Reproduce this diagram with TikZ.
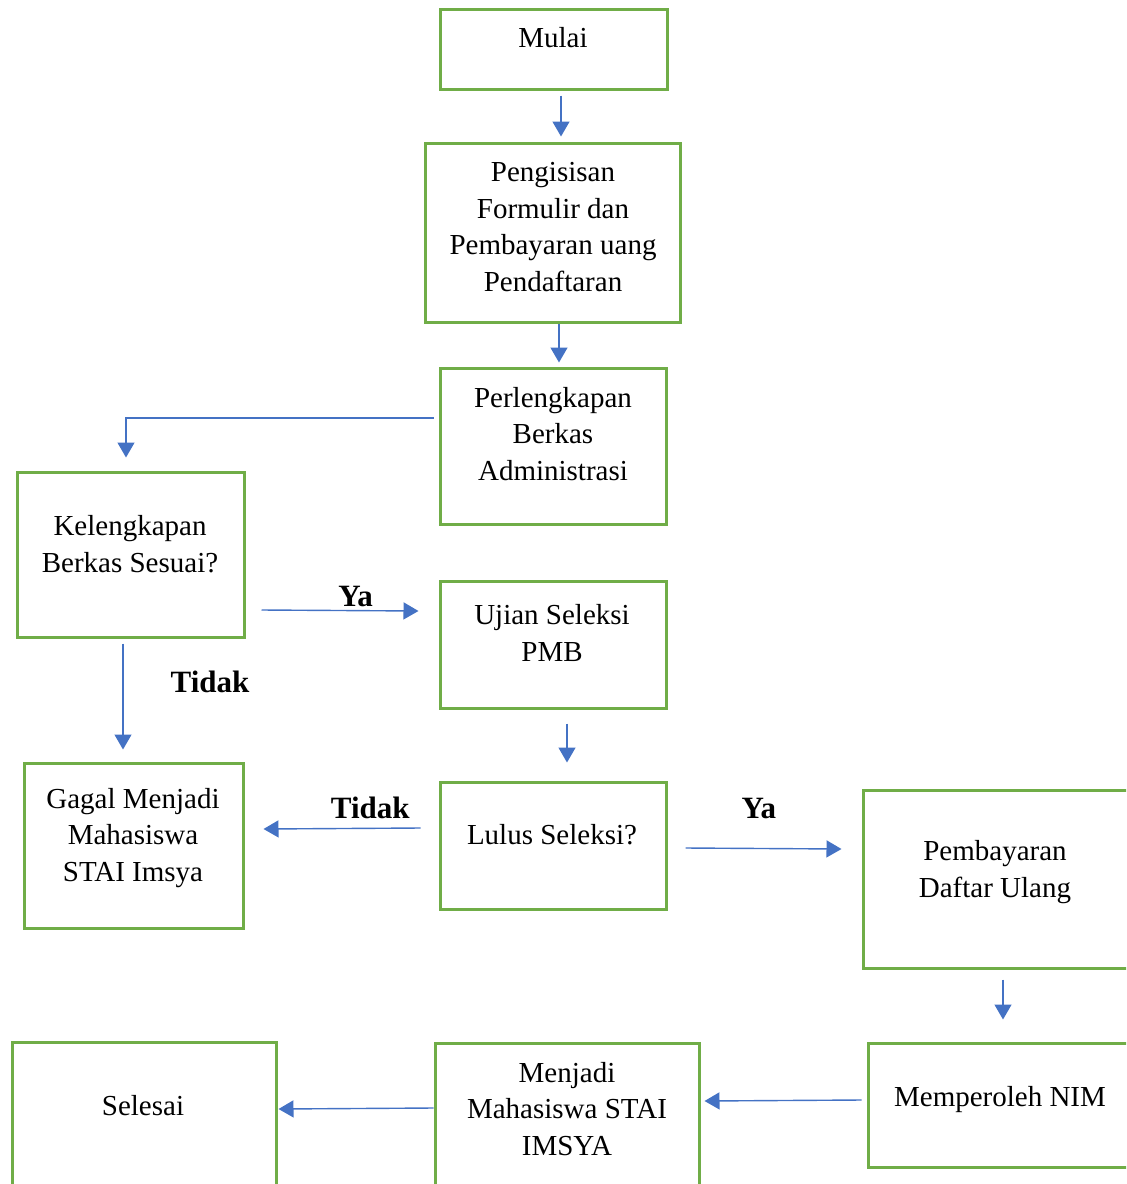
\documentclass[tikz,border=0pt]{standalone}
\usepackage{fontspec}
\setmainfont{Liberation Serif}
\usepackage{tikz}
\usetikzlibrary{arrows.meta,calc}
\definecolor{boxgreen}{HTML}{70AD47}
\definecolor{arrowblue}{HTML}{4472C4}

\begin{document}
\begin{tikzpicture}[x=0.5pt,y=-0.5pt,>={Triangle[width=8.5pt,length=7.5pt]},
  box/.style={draw=boxgreen,line width=1.5pt,inner sep=0pt},
  txt/.style={align=center,font=\fontsize{14.5}{18.35}\selectfont},
  lbl/.style={font=\fontsize{15.5}{18}\selectfont\bfseries},
  arr/.style={->,draw=arrowblue,line width=0.7pt}]
  \useasboundingbox (0,0) rectangle (1126,1184);
  \clip (0,0) rectangle (1126,1184);

  \node (mulai) [box,minimum width=113.5pt,minimum height=40pt] at (553.5,49) {};
  \node (peng) [box,minimum width=127.5pt,minimum height=89.5pt] at (552.5,232.5) {};
  \node (perl) [box,minimum width=113pt,minimum height=78pt] at (553,446) {};
  \node (kel) [box,minimum width=113.5pt,minimum height=82.5pt] at (130.5,554.5) {};
  \node (ujian) [box,minimum width=113pt,minimum height=63.5pt] at (553,644.5) {};
  \node (gagal) [box,minimum width=109.5pt,minimum height=82.5pt] at (133.5,845.5) {};
  \node (lulus) [box,minimum width=113pt,minimum height=63.5pt] at (553,845.5) {};
  \node (daftar) [box,minimum width=148.5pt,minimum height=89pt] at (1011.5,879) {};
  \node (nim) [box,minimum width=146pt,minimum height=62pt] at (1014,1105) {};
  \node (menjadi) [box,minimum width=132pt,minimum height=78.5pt] at (567,1121.5) {};
  \node (selesai) [box,minimum width=132pt,minimum height=79pt] at (144,1121) {};

  \node (mulaiT) [txt] at (553,38) {Mulai};
  \node (pengT) [txt] at (553,227) {Pengisisan\\Formulir dan\\Pembayaran uang\\Pendaftaran};
  \node (perlT) [txt] at (553,434) {Perlengkapan\\Berkas\\Administrasi};
  \node (kelT) [txt] at (130,544) {Kelengkapan\\Berkas Sesuai?};
  \node (ujianT) [txt] at (552,633) {Ujian Seleksi\\PMB};
  \node (gagalT) [txt] at (133,838) {Gagal Menjadi\\Mahasiswa\\STAI Imsya};
  \node (lulusT) [txt] at (552,835) {Lulus Seleksi?};
  \node (daftarT) [txt] at (995,872) {Pembayaran\\Daftar Ulang};
  \node (nimT) [txt] at (1000,1100) {Memperoleh NIM};
  \node (menjadiT) [txt] at (567,1109) {Menjadi\\Mahasiswa STAI\\IMSYA};
  \node (selesaiT) [txt] at (143,1106) {Selesai};

  \draw[arr] ($(mulai.south)+(7.5,5)$) -- ($(peng.north)+(8.5,-5)$);
  \draw[arr] ($(peng.south)+(6.5,0)$) -- ($(perl.north)+(6,-4)$);
  \draw[arr] ($(perl.west)+(-5,-28)$) -| ($(kel.north)+(-4.5,-13)$);
  \draw[arr] ($(kel.east)+(16,55.5)$) -- node[lbl,pos=.6,yshift=7pt] {Ya} ($(ujian.west)+(-20,-33.5)$);
  \draw[arr] ($(kel.south)+(-7.5,5)$) -- node[lbl,pos=.36,xshift=43.5pt] {Tidak} ($(gagal.north)+(-10.5,-12)$);
  \draw[arr] ($(ujian.south)+(14,14)$) -- ($(lulus.north)+(14,-18)$);
  \draw[arr] ($(lulus.west)+(-18,-17.5)$) -- node[lbl,pos=.32,yshift=10pt] {Tidak} ($(gagal.east)+(19,-16.5)$);
  \draw[arr] ($(lulus.east)+(18,2.5)$) -- node[lbl,pos=.47,yshift=20pt] {Ya} ($(daftar.west)+(-20,-30)$);
  \draw[arr] ($(daftar.south)+(-8.5,10)$) -- ($(nim.north)+(-11,-22)$);
  \draw[arr] ($(nim.west)+(-5,-5)$) -- ($(menjadi.east)+(4,-20.5)$);
  \draw[arr] ($(menjadi.west)+(0,-13.5)$) -- ($(selesai.east)+(1,-12)$);
\end{tikzpicture}
\end{document}
